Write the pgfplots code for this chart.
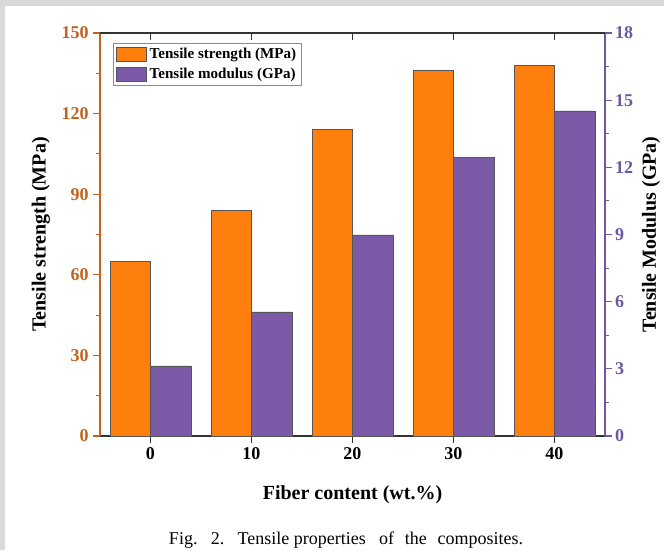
\documentclass[border=0pt]{standalone}
\usepackage{pgfplots}
\pgfplotsset{compat=1.18}
\usepackage{fontspec}
\setmainfont{Liberation Serif}
\definecolor{orbar}{RGB}{255,127,14}
\definecolor{pubar}{RGB}{123,91,168}
\definecolor{oraxis}{RGB}{194,98,30}
\definecolor{puaxis}{RGB}{107,91,158}
\definecolor{bggray}{RGB}{217,217,217}
\definecolor{edge}{RGB}{85,85,85}
\pgfplotstableread{
x ts
0 65
10 84
20 114
30 136
40 138
}\strength
\pgfplotstableread{
x tm
0 3.13
10 5.54
20 8.98
30 12.46
40 14.52
}\modulus
\pgfplotsset{
  common/.style={
    at={(0,0)}, anchor=south west,
    scale only axis, width=378.75pt, height=302.25pt,
    xmin=-5, xmax=45,
    xtick={0,10,20,30,40},
    /pgf/number format/assume math mode=true,
    tick label style={font=\bfseries\fontsize{13.5}{14}\selectfont},
    label style={font=\bfseries\fontsize{15}{15}\selectfont},
    major tick length=5pt, minor tick length=3pt,
  },
}
\begin{document}
\begin{tikzpicture}
\useasboundingbox (-75pt,-85.5pt) rectangle (423pt,327pt);
\fill[bggray] (-75pt,-85.5pt) rectangle (423pt,327pt);
\fill[white] (-71.25pt,-85.5pt) rectangle (423pt,322.5pt);
% left axis with orange bars
\begin{axis}[common,
  ymin=0, ymax=150, ytick={0,30,...,150}, minor y tick num=1,
  axis y line*=left, axis x line*=bottom,
  tick align=outside,
  y axis line style={oraxis, line width=0.8pt},
  x axis line style={black!80, line width=0.8pt},
  y tick style={oraxis, line width=0.8pt},
  x tick style={black!80, line width=0.8pt},
  yticklabel style={text=oraxis},
  ylabel={Tensile strength (MPa)},
  ylabel style={at={(axis description cs:-0.117,0.5)}, anchor=center},
  xlabel={Fiber content (wt.\%)},
  xlabel style={at={(axis description cs:0.5,-0.146)}, anchor=center},
]
\addplot[ybar, bar width=4, bar shift=-2, fill=orbar, draw=edge, line width=0.5pt] table[x=x, y=ts] {\strength};
\end{axis}
% right axis with purple bars
\begin{axis}[common,
  ymin=0, ymax=18, ytick={0,3,...,18}, minor y tick num=1,
  axis y line*=right, axis x line=none,
  tick align=outside,
  yticklabel style={text=puaxis, xshift=-1pt},
  y axis line style={puaxis, line width=0.8pt},
  y tick style={puaxis, line width=0.8pt},
  ylabel={Tensile Modulus (GPa)},
  ylabel style={at={(axis description cs:1.091,0.5)}, anchor=center},
  legend style={at={(axis description cs:0.026,0.975)}, anchor=north west,
    draw=black!45, line width=0.6pt, font=\bfseries\fontsize{11.3}{12}\selectfont,
    inner xsep=2pt, inner ysep=1.5pt, row sep=1.5pt},
  legend cell align=left,
  legend image code/.code={\draw[#1] (0pt,-5.25pt) rectangle (22.5pt,5.25pt);},
]
\addlegendimage{fill=orbar, draw=edge, line width=0.6pt}
\addlegendentry{Tensile strength (MPa)}
\addplot[ybar, bar width=4, bar shift=2, fill=pubar, draw=edge, line width=0.5pt] table[x=x, y=tm] {\modulus};
\addlegendentry{Tensile modulus (GPa)}
\end{axis}
% top ticks pointing inward
\begin{axis}[common,
  ymin=0, ymax=1,
  axis x line*=top, axis y line=none,
  tick align=inside,
  xticklabels={},
  x axis line style={black!80, line width=0.8pt},
  x tick style={black!80, line width=0.8pt},
]
\end{axis}
\node[font=\fontsize{13.5}{13.5}\selectfont] at (184.5pt,-78pt) {Fig.\hspace{10pt}2.\hspace{10pt}Tensile properties\hspace{10pt}of\hspace{8pt}the\hspace{8pt}composites.};
\end{tikzpicture}
\end{document}
